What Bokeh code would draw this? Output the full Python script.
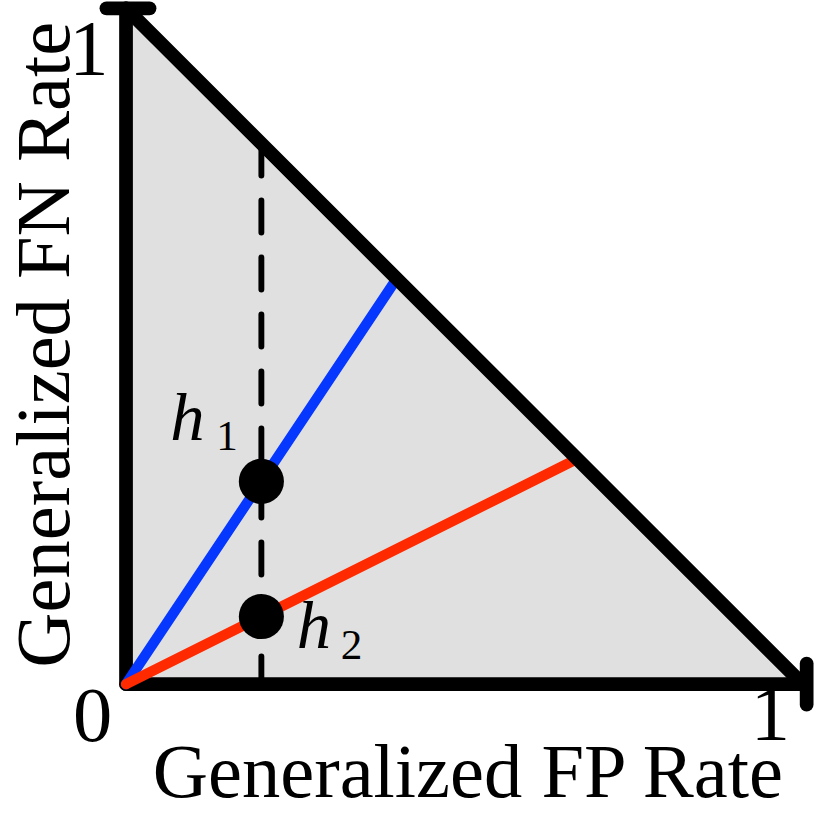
import math
from bokeh.plotting import figure
from bokeh.models import Range1d
from bokeh.core.properties import value
from bokeh.embed import file_html
from bokeh.resources import INLINE

# ---- data ----
tri_x = [0.0, 1.0, 0.0]
tri_y = [0.0, 0.0, 1.0]
blue_x = [0.0, 0.4]
blue_y = [0.0, 0.6]
red_x = [0.0, 2.0 / 3.0]
red_y = [0.0, 1.0 / 3.0]
dash_x = [0.2, 0.2]
dash_y = [0.8, 0.0]
pt_x = [0.2, 0.2]
pt_y = [0.3, 0.1]
pt_names = ["h", "h"]
pt_subs = ["1", "2"]
tick_labels = ["0", "1"]
x_title = "Generalized FP Rate"
y_title = "Generalized FN Rate"

# ---- layout (reference canvas 830x835 scaled to fit) ----
W, H = 814, 819
S = W / 830.0
OX, OY = 128.0, 697.0      # origin in reference pixels
UX, UY = 690.0, 689.0      # reference pixels per unit


def dx(px):
    return (px - OX) / UX


def dy(py):
    return (OY - py) / UY


p = figure(width=W, height=H, output_backend="svg", toolbar_location=None,
           x_range=Range1d(dx(0), dx(830)), y_range=Range1d(dy(835), dy(0)),
           min_border=0, x_axis_type=None, y_axis_type=None)
p.grid.visible = False
p.outline_line_color = None
p.background_fill_color = "white"

SERIF = value("Liberation Serif")
LW = 14 * S
BASE = 0.41  # correction from anchor to glyph baseline (em)


def fs(n):
    return f"{n * S:.1f}px"


# gray triangle
p.patch(tri_x, tri_y, fill_color="#e0e0e0", line_color=None)

# axes (left and bottom)
p.line([tri_x[0], tri_x[2]], [tri_y[0], tri_y[2]], line_color="black", line_width=LW, line_cap="round")
p.line([tri_x[0], tri_x[1]], [tri_y[0], tri_y[1]], line_color="black", line_width=LW, line_cap="round")
# end caps
cw = 22.0 / UX
ch = 21.0 / UY
p.line([tri_x[2] - cw + 2.0 / UX, tri_x[2] + cw + 2.0 / UX], [tri_y[2], tri_y[2]],
       line_color="black", line_width=LW, line_cap="round")
p.line([tri_x[1] + 4.0 / UX, tri_x[1] + 4.0 / UX], [tri_y[1] - ch, tri_y[1] + ch],
       line_color="black", line_width=LW, line_cap="round")

# dashed line
p.line(dash_x, dash_y, line_color="black", line_width=6 * S,
       line_dash=f"{33 * S:.0f} {25 * S:.0f}", line_cap="round")

# colored lines
p.line(blue_x, blue_y, line_color="#0537ff", line_width=10.5 * S, line_cap="round")
p.line(red_x, red_y, line_color="#ff2a00", line_width=10.5 * S, line_cap="round")

# hypotenuse
p.line([tri_x[2], tri_x[1]], [tri_y[2], tri_y[1]], line_color="black", line_width=LW, line_cap="round")

# points
p.scatter(pt_x, pt_y, size=46 * S, fill_color="black", line_color=None)


def label(x, y, txt, size, align, xo, yo, italic=False):
    p.text([x], [y], text=[txt], text_font=SERIF,
           text_font_style="italic" if italic else "normal",
           text_font_size=fs(size), text_align=align, text_baseline="alphabetic",
           x_offset=xo * S, y_offset=(yo - BASE * size) * S, text_color="black")


# point labels (offsets in reference px from the point to the glyph baseline)
label(pt_x[0], pt_y[0], pt_names[0], 70, "left", -93, -37, italic=True)
label(pt_x[0], pt_y[0], pt_subs[0], 44, "left", -46, -28)
label(pt_x[1], pt_y[1], pt_names[1], 70, "left", 36, 37, italic=True)
label(pt_x[1], pt_y[1], pt_subs[1], 44, "left", 81, 47)

# tick labels
label(0.0, 0.0, tick_labels[0], 80, "center", -34, 65)
label(0.0, 1.0, tick_labels[1], 80, "center", -38, 74)
label(1.0, 0.0, tick_labels[1], 80, "center", -33, 63)

# axis titles
label(0.5, 0.0, x_title, 78, "center", 5, 121)
p.text([dx(76 - BASE * 78)], [dy(351)], text=[y_title], text_font=SERIF,
       text_font_size=fs(78), text_align="center", text_baseline="alphabetic",
       angle=math.pi / 2, text_color="black")

open("out.html", "w").write(file_html(p, INLINE))
